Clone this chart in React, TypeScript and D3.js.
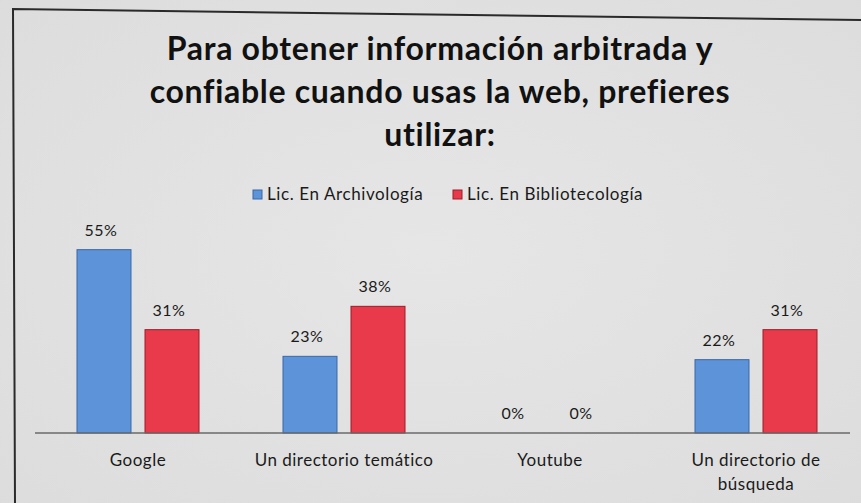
import React from "react";
import * as d3 from "d3";

const categories = ["Google", "Un directorio temático", "Youtube", "Un directorio de búsqueda"];
const series = ["Lic. En Archivología", "Lic. En Bibliotecología"];
const archivologia = [55, 23, 0, 22];
const bibliotecologia = [31, 38, 0, 31];
const titleLines = ["Para obtener información arbitrada y", "confiable cuando usas la web, prefieres", "utilizar:"];
const categoryLines: string[][] = [["Google"], ["Un directorio temático"], ["Youtube"], ["Un directorio de", "búsqueda"]];

const W = 861;
const H = 503;
const fills = ["#5d93d8", "#e83a4a"];
const strokes = ["#3b67a6", "#9c1c28"];

export default function App() {
  const x0 = d3.scaleBand<string>().domain(categories).range([35, 859]).paddingInner(0).paddingOuter(0);
  const bw = x0.bandwidth();
  const x1 = d3.scaleBand<string>().domain(series).range([bw / 2 - 61, bw / 2 + 61]).paddingInner(0.206).paddingOuter(0);
  const y = d3.scaleLinear().domain([0, 60]).range([433, 233]);
  const values = [archivologia, bibliotecologia];
  const font = "Lato, 'Open Sans', sans-serif";

  return (
    <svg width={W} height={H} style={{ position: "absolute", left: 0, top: 0 }}>
      <defs>
        <radialGradient id="bg" cx="0.5" cy="0.5" r="0.75">
          <stop offset="0" stopColor="#e6e6e6" />
          <stop offset="1" stopColor="#dcdcdc" />
        </radialGradient>
      </defs>
      <rect x={0} y={0} width={W} height={H} fill="url(#bg)" />
      <path d={`M861,20 L13,9 L15,503`} fill="none" stroke="#2a2a2a" strokeWidth={2} />
      {titleLines.map((t, i) => (
        <text key={i} x={440} y={60 + i * 43} textAnchor="middle" fontFamily={font} fontWeight={700} fontSize={32} letterSpacing={0.7} fill="#111">
          {t}
        </text>
      ))}
      {series.map((s, i) => {
        const lx = i === 0 ? 253 : 453;
        return (
          <g key={s}>
            <rect x={lx} y={190} width={9} height={9} fill={fills[i]} stroke={strokes[i]} strokeWidth={1} />
            <text x={lx + 14} y={200} fontFamily={font} fontSize={17} letterSpacing={0.6} fill="#1a1a1a">{s}</text>
          </g>
        );
      })}
      {categories.map((c, ci) => (
        <g key={c} transform={`translate(${x0(c)},0)`}>
          {series.map((s, si) => {
            const v = values[si][ci];
            const bx = x1(s)!;
            return (
              <g key={s}>
                {v > 0 && (
                  <rect x={bx} y={y(v)} width={x1.bandwidth()} height={y(0) - y(v)} fill={fills[si]} stroke={strokes[si]} strokeWidth={1} />
                )}
                <text x={bx + x1.bandwidth() / 2 - 3} y={y(v) - 14} textAnchor="middle" fontFamily={font} fontSize={16} letterSpacing={0.5} fill="#1a1a1a">
                  {`${v}%`}
                </text>
              </g>
            );
          })}
          {categoryLines[ci].map((l, li) => (
            <text key={li} x={bw / 2} y={466 + li * 24} textAnchor="middle" fontFamily={font} fontSize={17} letterSpacing={0.5} fill="#1a1a1a">
              {l}
            </text>
          ))}
        </g>
      ))}
      <line x1={35} x2={850} y1={y(0)} y2={y(0)} stroke="#6a6a6a" strokeWidth={1.5} />
    </svg>
  );
}
